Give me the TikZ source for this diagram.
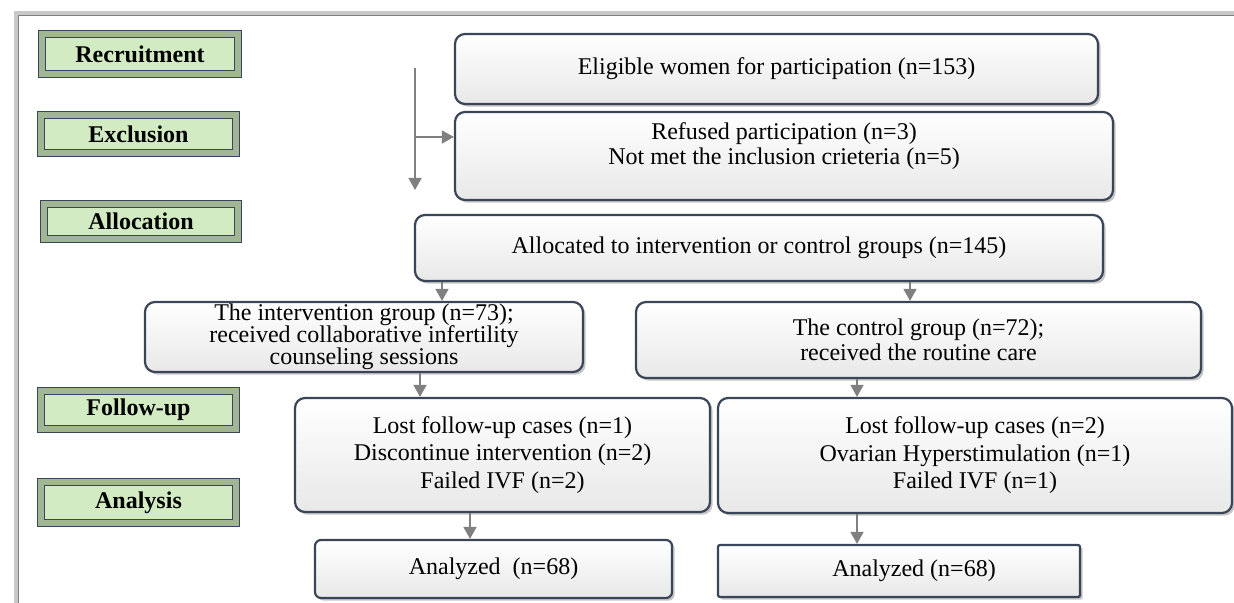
\documentclass[tikz,border=0pt]{standalone}
\usepackage{fontspec}
\setmainfont{Liberation Serif}
\usepackage{tikz}
\usetikzlibrary{calc, arrows.meta, shadows}
\tikzset{>=latex}
\definecolor{mygreen}{RGB}{210, 235, 195}
\definecolor{mybevel}{RGB}{160, 182, 148}
\definecolor{myedge}{RGB}{58, 70, 88}
\definecolor{mygray1}{RGB}{128, 128, 128}
\definecolor{mygray2}{RGB}{200, 200, 200}

\begin{document}
\begin{tikzpicture}[
    x = 0.5pt, y = -0.5pt,
    font = \fontsize{12}{12.5}\selectfont,
    ph/.style = {draw = myedge, line width = 0.6pt, double = mybevel, double distance = 3.2pt, fill = mygreen, inner sep = 0pt, font = \fontsize{12}{12.5}\selectfont\bfseries},
    bx/.style = {draw = myedge, line width = 1.1pt, rounded corners = 5pt, top color = white, bottom color = black!9, drop shadow = {shadow xshift = 1.3pt, shadow yshift = -1.3pt, fill = black!45}, align = center, inner sep = 0pt},
    ar/.style = {draw = mygray1, line width = 0.8pt, -{Triangle[width = 6.5pt, length = 6pt]}},
]
\useasboundingbox (0,0) rectangle (1234,603);

% window frame
\draw[mygray2, line width = 2pt] (16,603) -- (16,13) -- (1234,13);
\draw[mygray1, line width = 0.6pt] (18.5,603) -- (18.5,15.5) -- (1234,15.5);

% phases
\node[ph, minimum width = 98pt, minimum height = 20pt] (rec) at (140,54) {Recruitment};
\node[ph, minimum width = 97.5pt, minimum height = 19pt] (exc) at (138.5,134) {Exclusion};
\node[ph, minimum width = 97pt, minimum height = 17.5pt] (alc) at (141,221.5) {Allocation};
\node[ph, minimum width = 97.5pt, minimum height = 19pt] (fol) at (138.5,410) {Follow-up};
\node[ph, minimum width = 97.5pt, minimum height = 20.5pt] (ana) at (138.5,502.5) {Analysis};

% flow boxes
\node[bx, minimum width = 321.5pt, minimum height = 35pt] (elig) at (776.5,69) {Eligible women for participation (n=153)};
\node[bx, minimum width = 329pt, minimum height = 44pt] (refu) at (784,156) {Refused participation (n=3)\\ Not met the inclusion crieteria (n=5)\\ \mbox{}};
\node[bx, minimum width = 344pt, minimum height = 33pt] (alloc) at (759,248) {Allocated to intervention or control groups (n=145)};
\node[bx, minimum width = 219pt, minimum height = 35pt] (intv) at (364,337) {\rule{0pt}{7.5pt}The intervention group (n=73);\\[-1.6pt] received collaborative infertility\\[-1.6pt] counseling sessions};
\node[bx, minimum width = 282.5pt, minimum height = 38pt] (ctrl) at (918.5,340) {The control group (n=72);\\ received the routine care};
\node[bx, minimum width = 207.5pt, minimum height = 57pt] (lostl) at (502.5,455) {Lost follow-up cases (n=1)\\[1.3pt] Discontinue intervention (n=2)\\[1.3pt] Failed IVF (n=2)};
\node[bx, minimum width = 257pt, minimum height = 57.5pt] (lostr) at (975,455.5) {Lost follow-up cases (n=2)\\[1.3pt] Ovarian Hyperstimulation (n=1)\\[1.3pt] Failed IVF (n=1)};
\node[bx, rounded corners = 3pt, minimum width = 178.5pt, minimum height = 29pt] (anl) at (493.5,569) {Analyzed~ (n=68)};
\node[bx, rounded corners = 1pt, minimum width = 181pt, minimum height = 26pt] (anr) at (899,571) {\hspace{15pt}Analyzed (n=68)};

% arrows
\coordinate (s0) at (415,68);
\coordinate (s1) at (415,190);
\coordinate (s2) at (415,137);
\draw[ar] (s0) -- (s1);
\draw[ar] (s2) -- (s2 -| refu.west);
\draw[ar] (442,0 |- alloc.south) -- (442,0 |- intv.north);
\draw[ar] (910,0 |- alloc.south) -- (910,0 |- ctrl.north);
\draw[ar] (420,0 |- intv.south) -- (420,0 |- lostl.north);
\draw[ar] (857,0 |- ctrl.south) -- (857,0 |- lostr.north);
\draw[ar] (470,0 |- lostl.south) -- (470,0 |- anl.north);
\draw[ar] (857,0 |- lostr.south) -- (857,0 |- anr.north);

\end{tikzpicture}
\end{document}
